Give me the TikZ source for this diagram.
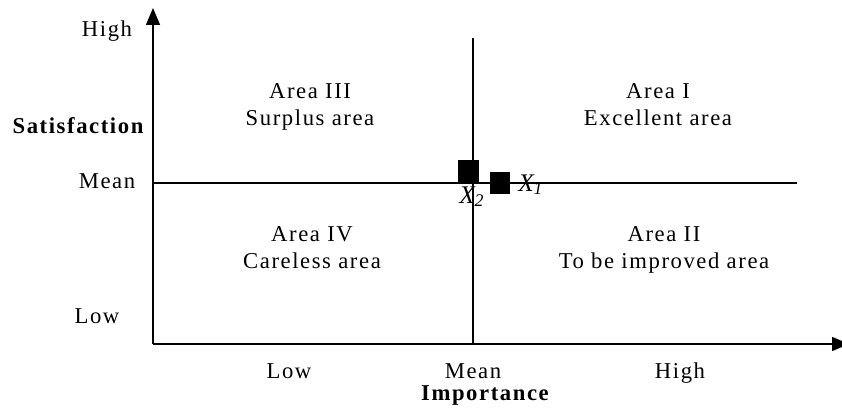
\documentclass[tikz,border=0pt]{standalone}
\usepackage{fontspec}
\setmainfont[LetterSpace=7]{Liberation Serif}
\newfontfamily\nospace{Liberation Serif}
\usepackage{xcolor}
\usetikzlibrary{arrows.meta,positioning}
\definecolor{ipaink}{HTML}{000000}

\begin{document}
\begin{tikzpicture}[
  x=0.75pt,y=-0.75pt,
  every node/.style={inner sep=0pt,font=\fontsize{17}{20.25}\selectfont,text=ipaink},
  axis/.style={-{Triangle[length=12.75pt,width=10.5pt]},draw=ipaink,line width=1.1pt},
  meanline/.style={draw=ipaink,line width=1.1pt},
  area/.style={align=center,anchor=base},
  tick/.style={anchor=base},
  title/.style={anchor=base,font=\fontsize{17}{20}\selectfont\bfseries},
  marker/.style={rectangle,fill=ipaink,draw=none},
  itemlabel/.style={anchor=base west,font=\fontsize{19}{20}\selectfont\nospace\itshape},
]
\useasboundingbox (0,0) rectangle (842,410);

% Axes and the two mean lines that cut the plane into four areas.
\coordinate (origin) at (153,344);
\coordinate (ytop) at (153,8);
\coordinate (xend) at (849,344);
\coordinate (vtop) at (473,38);
\coordinate (vbot) at (473,344);
\coordinate (hleft) at (153,183);
\coordinate (hright) at (797,183);
\draw[axis] (origin) -- (ytop);
\draw[axis] (origin) -- (xend);
\draw[meanline] (vtop) -- (vbot);
\draw[meanline] (hleft) -- (hright);

% Area labels (anchored on the baseline of the second line)
\foreach \x/\y/\n/\txt in {
  310/125/a3/{Area III\\Surplus area},
  658/125/a1/{Area I\\Excellent area},
  312/268/a4/{Area IV\\Careless area},
  664/268/a2/{Area II\\To be improved area}}
  {
    \node[area] (\n) at (\x,\y) {\txt};
  }

% Satisfaction scale
\node[tick] (shigh) at (107,37) {High};
\node[title] (sat) at (78,133) {Satisfaction};
\node[tick] (smean) at (107,188) {Mean};
\node[tick] (slow) at (97,323) {Low};

% Importance scale
\node[tick] (ilow) at (289,378) {Low};
\node[tick] (imean) at (473,378) {Mean};
\node[tick] (ihigh) at (680,378) {High};
\node[title] (imp) at (485,400) {Importance};

% Items
\node[marker,minimum width=15.75pt,minimum height=17.25pt] (x2) at (468.5,171.5) {};
\node[marker,minimum width=15pt,minimum height=16.5pt] (x1) at (500,183) {};
\node[itemlabel] (x1lab) at (518,191) {X\textsubscript{1}};
\node[itemlabel] (x2lab) at (459,203) {X\textsubscript{2}};
\end{tikzpicture}
\end{document}
